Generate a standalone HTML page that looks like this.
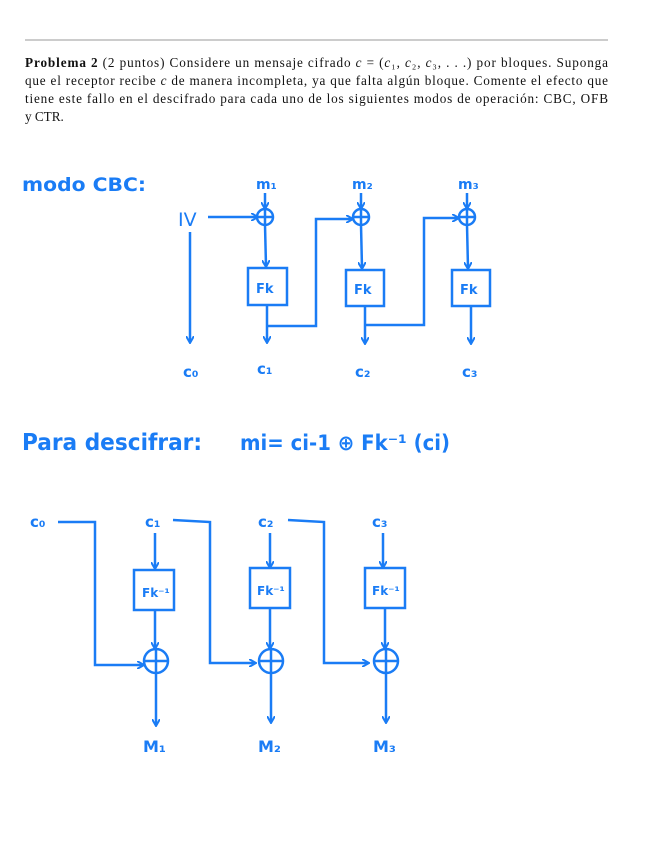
<!DOCTYPE html>
<html><head><meta charset="utf-8"><style>
body{margin:0;background:#fff;width:646px;height:848px;overflow:hidden}
</style></head><body>
<svg width="646" height="848" xmlns="http://www.w3.org/2000/svg">
<line x1="25" y1="40" x2="608" y2="40" stroke="#999" stroke-width="1"/>
<g font-family="Liberation Serif, serif" font-size="13.2" fill="#111">
<text x="25" y="67" textLength="583" lengthAdjust="spacing"><tspan font-weight="bold">Problema 2</tspan>  (2 puntos) Considere un mensaje cifrado <tspan font-style="italic">c</tspan> = (<tspan font-style="italic">c</tspan>₁, <tspan font-style="italic">c</tspan>₂, <tspan font-style="italic">c</tspan>₃, . . .) por bloques. Suponga</text>
<text x="25" y="85" textLength="583">que el receptor recibe <tspan font-style="italic">c</tspan> de manera incompleta, ya que falta algún bloque. Comente el efecto que</text>
<text x="25" y="103" textLength="583">tiene este fallo en el descifrado para cada uno de los siguientes modos de operación: CBC, OFB</text>
<text x="25" y="121">y CTR.</text>
</g>
<defs><marker id="a" markerWidth="8" markerHeight="8" refX="6" refY="4" orient="auto" markerUnits="userSpaceOnUse"><path d="M0,0 L7,4 L0,8" fill="none" stroke="#1a7cf5" stroke-width="2"/></marker></defs>
<g stroke="#1a7cf5" stroke-width="2.5" fill="none">
<line x1="208" y1="217" x2="257" y2="217" marker-end="url(#a)"/>
<line x1="190" y1="232" x2="190" y2="342" marker-end="url(#a)"/>
<circle cx="265" cy="217" r="8"/><line x1="257" y1="217" x2="273" y2="217"/><line x1="265" y1="209" x2="265" y2="225"/>
<circle cx="361" cy="217" r="8"/><line x1="353" y1="217" x2="369" y2="217"/><line x1="361" y1="209" x2="361" y2="225"/>
<circle cx="467" cy="217" r="8"/><line x1="459" y1="217" x2="475" y2="217"/><line x1="467" y1="209" x2="467" y2="225"/>
<line x1="265" y1="193" x2="265" y2="208" marker-end="url(#a)"/>
<line x1="361" y1="193" x2="361" y2="208" marker-end="url(#a)"/>
<line x1="467" y1="193" x2="467" y2="208" marker-end="url(#a)"/>
<line x1="265" y1="225" x2="266" y2="266" marker-end="url(#a)"/>
<line x1="361" y1="225" x2="362" y2="268" marker-end="url(#a)"/>
<line x1="467" y1="225" x2="468" y2="268" marker-end="url(#a)"/>
<rect x="248" y="268" width="39" height="37"/>
<rect x="346" y="270" width="38" height="36"/>
<rect x="452" y="270" width="38" height="36"/>
<line x1="267" y1="305" x2="267" y2="342" marker-end="url(#a)"/>
<line x1="365" y1="306" x2="365" y2="343" marker-end="url(#a)"/>
<line x1="471" y1="306" x2="471" y2="343" marker-end="url(#a)"/>
<polyline points="267,326 316,326 316,219 352,219" marker-end="url(#a)"/>
<polyline points="365,325 424,325 424,218 458,218" marker-end="url(#a)"/>
<polyline points="58,522 95,522 95,665 143,665" marker-end="url(#a)"/>
<polyline points="173,520 210,522 210,663 255,663" marker-end="url(#a)"/>
<polyline points="288,520 324,522 324,663 368,663" marker-end="url(#a)"/>
<circle cx="156" cy="661" r="12"/><line x1="144" y1="661" x2="168" y2="661"/><line x1="156" y1="649" x2="156" y2="673"/>
<circle cx="271" cy="661" r="12"/><line x1="259" y1="661" x2="283" y2="661"/><line x1="271" y1="649" x2="271" y2="673"/>
<circle cx="386" cy="661" r="12"/><line x1="374" y1="661" x2="398" y2="661"/><line x1="386" y1="649" x2="386" y2="673"/>
<line x1="155" y1="533" x2="155" y2="568" marker-end="url(#a)"/>
<line x1="270" y1="533" x2="270" y2="567" marker-end="url(#a)"/>
<line x1="383" y1="533" x2="383" y2="567" marker-end="url(#a)"/>
<rect x="134" y="570" width="40" height="40"/>
<rect x="250" y="568" width="40" height="40"/>
<rect x="365" y="568" width="40" height="40"/>
<line x1="155" y1="610" x2="155" y2="648" marker-end="url(#a)"/>
<line x1="270" y1="608" x2="270" y2="648" marker-end="url(#a)"/>
<line x1="385" y1="608" x2="385" y2="648" marker-end="url(#a)"/>
<line x1="156" y1="673" x2="156" y2="725" marker-end="url(#a)"/>
<line x1="271" y1="673" x2="271" y2="722" marker-end="url(#a)"/>
<line x1="386" y1="673" x2="386" y2="722" marker-end="url(#a)"/>
</g>
<g fill="#1a7cf5" font-family="DejaVu Sans, sans-serif" font-weight="bold">
<text x="22" y="191" font-size="19" textLength="124" lengthAdjust="spacingAndGlyphs">modo CBC:</text>
<text x="178" y="226" font-size="19" font-weight="normal">IV</text>
<text x="256" y="189" font-size="14">m₁</text>
<text x="352" y="189" font-size="14">m₂</text>
<text x="458" y="189" font-size="14">m₃</text>
<text x="256" y="293" font-size="13">Fk</text>
<text x="354" y="294" font-size="13">Fk</text>
<text x="460" y="294" font-size="13">Fk</text>
<text x="183" y="377" font-size="15">c₀</text>
<text x="257" y="374" font-size="15">c₁</text>
<text x="355" y="377" font-size="15">c₂</text>
<text x="462" y="377" font-size="15">c₃</text>
<text x="22" y="450" font-size="23" textLength="180" lengthAdjust="spacingAndGlyphs">Para descifrar:</text>
<text x="240" y="450" font-size="21" textLength="210" lengthAdjust="spacingAndGlyphs">mi= ci-1 ⊕ Fk⁻¹ (ci)</text>
<text x="30" y="527" font-size="15">c₀</text>
<text x="145" y="527" font-size="15">c₁</text>
<text x="258" y="527" font-size="15">c₂</text>
<text x="372" y="527" font-size="15">c₃</text>
<text x="142" y="597" font-size="12">Fk⁻¹</text>
<text x="257" y="595" font-size="12">Fk⁻¹</text>
<text x="372" y="595" font-size="12">Fk⁻¹</text>
<text x="143" y="752" font-size="16">M₁</text>
<text x="258" y="752" font-size="16">M₂</text>
<text x="373" y="752" font-size="16">M₃</text>
</g>
</svg>
</body></html>
